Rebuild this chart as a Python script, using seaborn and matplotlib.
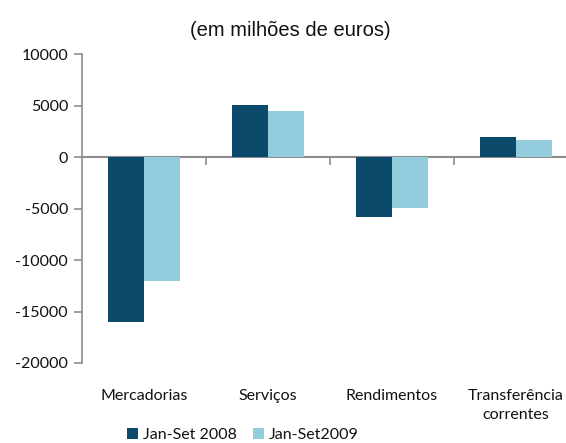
import pandas as pd
import numpy as np
import matplotlib
matplotlib.use("Agg")
import matplotlib.pyplot as plt
import seaborn as sns

# data (millions of euros)
categories = ["Mercadorias", "Serviços", "Rendimentos", "Transferência\ncorrentes"]
series_names = ["Jan-Set 2008", "Jan-Set2009"]
values_2008 = [-16050, 5070, -5870, 1940]
values_2009 = [-12000, 4420, -4930, 1610]
yticks = [10000, 5000, 0, -5000, -10000, -15000, -20000]

df = pd.DataFrame({
    "categoria": categories * 2,
    "periodo": [series_names[0]] * 4 + [series_names[1]] * 4,
    "valor": values_2008 + values_2009,
})

sns.set_style("white")
plt.rcParams["font.family"] = ["Lato", "DejaVu Sans"]

dark = "#0C4A6B"
light = "#93CDDD"
grey = "#8C8C8C"
txt = "#111111"

fig = plt.figure(figsize=(5.66, 4.43), dpi=100)
ax = fig.add_axes([82 / 566, 1 - 363 / 443, 496 / 566, 309 / 443])

sns.barplot(data=df, x="categoria", y="valor", hue="periodo",
            palette=[dark, light], saturation=1, width=0.58, gap=0, ax=ax,
            edgecolor="none", legend=True)

ax.set_ylim(-20000, 10000)
ax.set_xlim(-0.5, 3.5)
ax.set_yticks(yticks)
ax.set_yticklabels([str(v) for v in yticks], fontsize=11.5, color=txt)
ax.set_xlabel("")
ax.set_ylabel("")

for s in ["top", "right", "bottom"]:
    ax.spines[s].set_visible(False)
ax.spines["left"].set_color(grey)
ax.spines["left"].set_linewidth(1.2)
ax.tick_params(axis="y", which="major", left=True, length=6, width=1.2,
               color=grey, pad=4)

# category labels below the plot, no tick marks
ax.tick_params(axis="x", length=0, pad=19, labelsize=11.5, labelcolor=txt)
for lbl in ax.get_xticklabels():
    lbl.set_linespacing(1.45)

# zero axis with ticks between the categories
zero = ax.secondary_xaxis(2 / 3)
zero.set_xticks([0.5, 1.5, 2.5])
zero.set_xticklabels([])
for s in zero.spines.values():
    s.set_color(grey)
    s.set_linewidth(1.5)
zero.tick_params(length=6, width=1.2, color=grey, direction="in")

ax.set_title("(em milhões de euros)", fontsize=14.5, family="Liberation Sans",
             pad=13, x=(290 - 82) / 496, color=txt)

handles, labels = ax.get_legend_handles_labels()
ax.legend_.remove()
fig.legend(handles, labels, loc="center", bbox_to_anchor=(243 / 566, 1 - 435 / 443),
           ncol=2, frameon=False, fontsize=11.5, handlelength=0.7, handleheight=0.7,
           handletextpad=0.3, columnspacing=1.0, borderaxespad=0, labelcolor=txt)

fig.savefig("out.png", dpi=100)
